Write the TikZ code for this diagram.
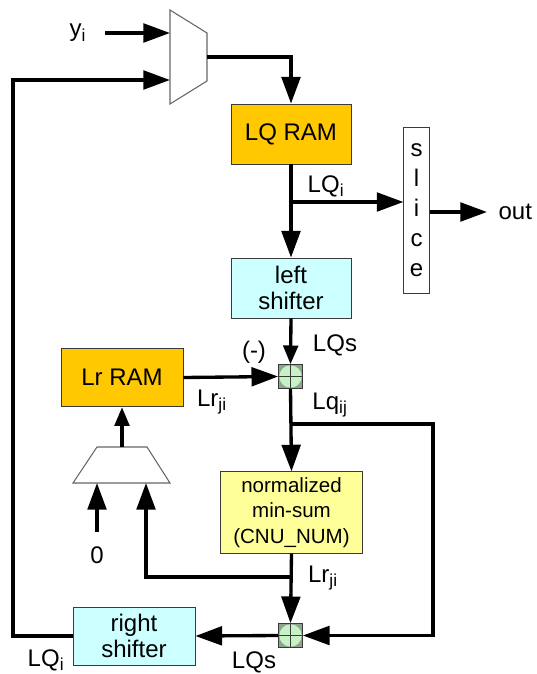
\documentclass[tikz,border=0pt]{standalone}
\usepackage{fontspec}
\setmainfont{Liberation Sans}
\usetikzlibrary{arrows.meta,positioning,calc}
\definecolor{ramor}{HTML}{FFC800}
\definecolor{shcyan}{HTML}{CCFFFF}
\definecolor{cnuyel}{HTML}{FFFF99}
\definecolor{addgr}{HTML}{C6F2C6}
\definecolor{addcorner}{HTML}{8FA38F}
\definecolor{edgegr}{HTML}{3A3A3A}
\newcommand{\lsub}[1]{$_{\mbox{\fontsize{13}{13}\selectfont #1}}$}

\begin{document}
\begin{tikzpicture}[x=0.75pt,y=-0.75pt,
  wire/.style={line width=2.5pt,-{Triangle[length=20pt,width=14pt]}},
  shortwire/.style={line width=2.5pt,-{Triangle[length=14pt,width=11pt]}},
  blk/.style={draw=edgegr,line width=0.6pt,inner sep=0pt,align=center,
    minimum width=90pt,minimum height=45pt,font=\fontsize{18}{20}\selectfont},
  lbl/.style={inner sep=1pt,font=\fontsize{18}{20}\selectfont},
  mux/.style={draw=gray!80!black,line width=0.8pt,fill=white},
  adder/.style={draw=edgegr,line width=0.5pt,fill=addcorner,minimum size=18pt,inner sep=0pt,
    path picture={
      \fill[addgr] (path picture bounding box.center) circle (8.4pt);
      \draw[line width=0.9pt] (path picture bounding box.north) -- (path picture bounding box.south)
        (path picture bounding box.west) -- (path picture bounding box.east);}}]
  \useasboundingbox (0,0) rectangle (536,674);

  % blocks
  \node[blk,fill=ramor] (lqram) at (291,134) {LQ RAM};
  \node[blk,fill=shcyan] (lshift) at (291,288) {left\\shifter};
  \node[blk,fill=ramor,minimum width=91.5pt,minimum height=44pt] (lrram) at (122,377.5) {Lr RAM};
  \node[blk,fill=cnuyel,minimum width=107pt,minimum height=61pt,
    font=\fontsize{15.4}{19}\selectfont] (norm) at (291.5,512.5) {normalized\\min-sum\\(CNU\_NUM)};
  \node[blk,fill=shcyan,minimum width=91.5pt,minimum height=43.5pt] (rshift) at (134,636) {right\\shifter};
  \node[blk,fill=white,minimum width=19pt,minimum height=124pt,
    font=\fontsize{18}{22.5}\selectfont] (slice) at (416.5,210.5) {s\\l\\i\\c\\e};
  \node[adder] (add1) at (290.5,376.5) {};
  \node[adder] (add2) at (290.5,635.5) {};

  % muxes
  \draw[mux] (170,10) -- (207,33) -- (207,81) -- (170,104) -- cycle;
  \coordinate (muxin1) at (170,33);
  \coordinate (muxin2) at (170,80);
  \coordinate (muxout) at (207,57);
  \draw[mux] (97,447) -- (147,447) -- (170,483) -- (73,483) -- cycle;
  \coordinate (mux2in1) at (97,483);
  \coordinate (mux2in2) at (146,483);
  \coordinate (mux2out) at (122,447);

  % labels
  \node[lbl] (yi) at (78,33) {y\lsub{i}};
  \node[lbl,anchor=west] (out) at (497,212) {out};
  \node[lbl] (lqi) at (326,186) {LQ\lsub{i}};
  \node[lbl] (lqs1) at (335,345) {LQs};
  \node[lbl] (neg) at (254,352) {(-)};
  \node[lbl] (lrji1) at (212,402) {Lr\lsub{ji}};
  \node[lbl] (lqij) at (330,405) {Lq\lsub{ij}};
  \node[lbl] (zero) at (97,555) {0};
  \node[lbl] (lrji2) at (323,578) {Lr\lsub{ji}};
  \node[lbl] (lqs2) at (254,662) {LQs};
  \node[lbl] (lqi2) at (46,660) {LQ\lsub{i}};

  % wires
  \coordinate (yin) at (105,33);
  \coordinate (outend) at (487,212);
  \coordinate (tap1) at (291,202);
  \coordinate (tap2) at (291,424);
  \coordinate (rc) at (433,424);
  \coordinate (tap3) at (291,577);
  \coordinate (zin) at (97,532);
  \coordinate (lc) at (13,636);
  \draw[wire] (yin) -- (muxin1);
  \draw[wire] (muxout) -| (lqram.north);
  \draw[wire] (lqram.south) -- (lshift.north);
  \draw[wire] (tap1) -- (tap1 -| slice.west);
  \draw[wire] (slice.east |- outend) -- (outend);
  \draw[shortwire] (lshift.south) -- (add1.north);
  \draw[wire] (lrram.east) -- (add1.west);
  \draw[wire] (add1.south) -- (norm.north);
  \draw[wire] (tap2) -- (rc) |- (add2.east);
  \draw[wire] (norm.south) -- (add2.north);
  \draw[wire] (tap3) -| (mux2in2);
  \draw[wire] (zin) -- (mux2in1);
  \draw[shortwire] (mux2out) -- (lrram.south);
  \draw[wire] (add2.west) -- (rshift.east);
  \draw[wire] (rshift.west) -- (lc) |- (muxin2);
\end{tikzpicture}
\end{document}
